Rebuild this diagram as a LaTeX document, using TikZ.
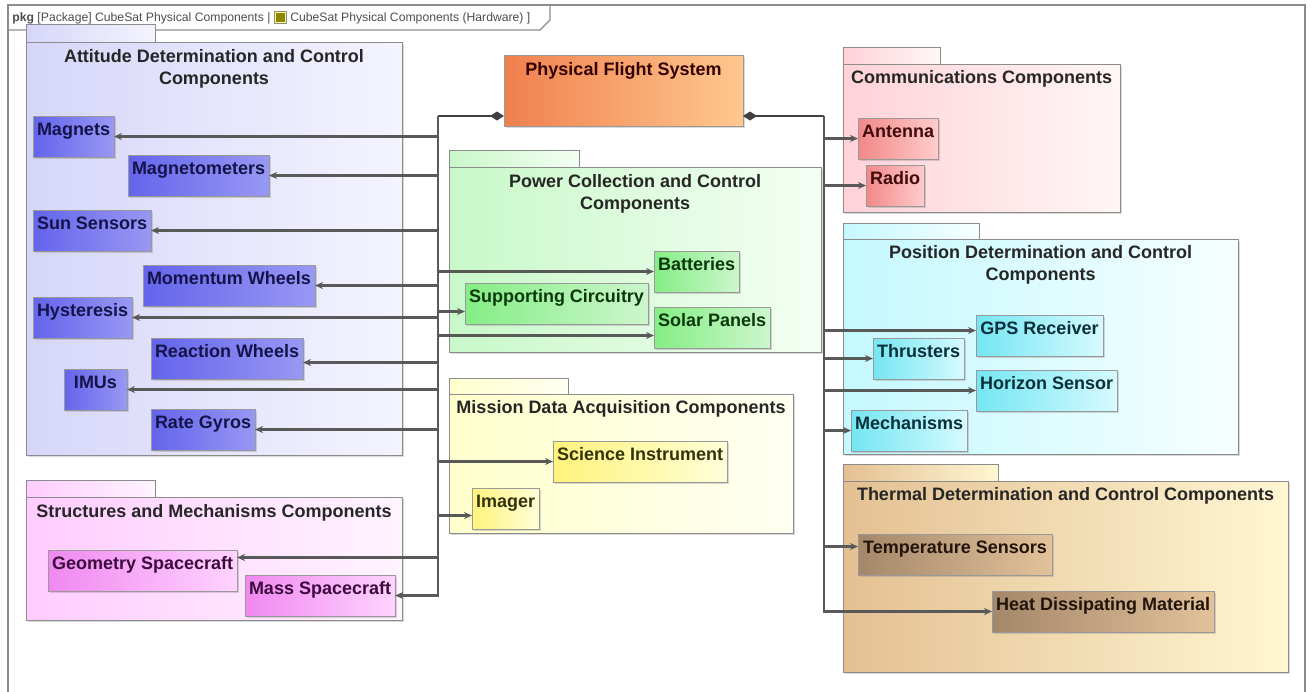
\documentclass[tikz,border=0pt]{standalone}
\usepackage{fontspec}
\setmainfont{Liberation Sans}
\usetikzlibrary{positioning,arrows.meta,shadows}

\definecolor{adcsL}{HTML}{D6D6FA}
\definecolor{adcsR}{HTML}{F4F4FF}
\definecolor{adcsPL}{HTML}{6464EC}
\definecolor{adcsPR}{HTML}{9898F4}
\definecolor{adcsT}{HTML}{14144A}
\definecolor{smL}{HTML}{FFCCFF}
\definecolor{smR}{HTML}{FFF4FF}
\definecolor{smPL}{HTML}{F088F0}
\definecolor{smPR}{HTML}{FFD4FF}
\definecolor{smT}{HTML}{3C0A3C}
\definecolor{pccL}{HTML}{C8F8C8}
\definecolor{pccR}{HTML}{F4FFF4}
\definecolor{pccPL}{HTML}{84EE84}
\definecolor{pccPR}{HTML}{CDF6CD}
\definecolor{pccT}{HTML}{0A380A}
\definecolor{mdaL}{HTML}{FFFFCC}
\definecolor{mdaR}{HTML}{FFFFF2}
\definecolor{mdaPL}{HTML}{FFF27C}
\definecolor{mdaPR}{HTML}{FFFFD8}
\definecolor{mdaT}{HTML}{33330A}
\definecolor{comL}{HTML}{FFD2D8}
\definecolor{comR}{HTML}{FFF6F6}
\definecolor{comPL}{HTML}{F28888}
\definecolor{comPR}{HTML}{FFCCCC}
\definecolor{comT}{HTML}{400A0A}
\definecolor{pdcL}{HTML}{C4F8FF}
\definecolor{pdcR}{HTML}{F6FFFF}
\definecolor{pdcPL}{HTML}{74E6F2}
\definecolor{pdcPR}{HTML}{D6FAFF}
\definecolor{pdcT}{HTML}{08303A}
\definecolor{tdcL}{HTML}{E4C092}
\definecolor{tdcR}{HTML}{FFF6D2}
\definecolor{tdcPL}{HTML}{A4876A}
\definecolor{tdcPR}{HTML}{E2C29A}
\definecolor{tdcT}{HTML}{22140A}
\definecolor{pfsL}{HTML}{F0804E}
\definecolor{pfsR}{HTML}{FFC88E}

\begin{document}
\begin{tikzpicture}[x=0.5pt,y=-0.5pt,
    frame/.style={draw=black!45,line width=0.6pt},
    pkg/.style={draw=black!45,line width=0.5pt,anchor=north west,outer sep=0pt,inner sep=0pt,
      drop shadow={shadow xshift=1pt,shadow yshift=-1pt,opacity=0.3}},
    pkgtab/.style={draw=black!45,line width=0.5pt},
    pkgtitle/.style={anchor=north,inner sep=0pt,align=center,text=black!85,
      font=\fontsize{9}{11}\selectfont\bfseries},
    part/.style={draw=black!40,line width=0.5pt,anchor=north west,outer sep=0pt,
      inner xsep=2pt,inner ysep=2.5pt,text height=7pt,text depth=8.5pt,
      font=\fontsize{9}{11}\selectfont\bfseries,
      drop shadow={shadow xshift=1pt,shadow yshift=-1pt,opacity=0.3}},
    adcspart/.style={part,left color=adcsPL,right color=adcsPR,text=adcsT},
    smpart/.style={part,left color=smPL,right color=smPR,text=smT},
    pccpart/.style={part,left color=pccPL,right color=pccPR,text=pccT},
    mdapart/.style={part,left color=mdaPL,right color=mdaPR,text=mdaT},
    compart/.style={part,left color=comPL,right color=comPR,text=comT},
    pdcpart/.style={part,left color=pdcPL,right color=pdcPR,text=pdcT},
    tdcpart/.style={part,left color=tdcPL,right color=tdcPR,text=tdcT},
    comp/.style={{Diamond[length=7pt,width=4.5pt]}-,draw=black!75,line width=1.2pt},
    trunk/.style={draw=black!75,line width=1.2pt},
    link/.style={-{Stealth[length=4pt,width=3.5pt]},draw=black!65,line width=1.1pt}]
  \useasboundingbox (0,0) rectangle (1310,691);

  % diagram frame and name tab
  \draw[frame] (8,5) rectangle (1305,720);
  \draw[frame] (8,30) -- (540,30) -- (550,20) -- (550,5);
  \node[anchor=west,inner sep=0pt,text=black!70,font=\fontsize{6.1}{7.5}\selectfont] (hdr) at (12,17.5)
    {\textbf{pkg} [Package] CubeSat Physical Components | {\setlength{\fboxsep}{0.6pt}\fcolorbox{black!45}{yellow!50}{\color{olive}\rule{4.5pt}{4.5pt}}} CubeSat Physical Components (Hardware) ]};

  % packages
  \draw[pkgtab,left color=adcsL,right color=adcsR] (26,24) rectangle (155,42);
  \node[pkg,left color=adcsL,right color=adcsR,minimum width=188pt,minimum height=206.5pt] (adcs) at (26,42) {};
  \node[pkgtitle,below=3.5pt of adcs.north] (adcst) {Attitude Determination and Control\\Components};

  \draw[pkgtab,left color=smL,right color=smR] (26,480) rectangle (155,497);
  \node[pkg,left color=smL,right color=smR,minimum width=188pt,minimum height=61.5pt] (sm) at (26,497) {};
  \node[pkgtitle,below=3.5pt of sm.north] (smt) {Structures and Mechanisms Components};

  \draw[pkgtab,left color=pccL,right color=pccR] (449,150) rectangle (579,167);
  \node[pkg,left color=pccL,right color=pccR,minimum width=186pt,minimum height=92.5pt] (pcc) at (449,167) {};
  \node[pkgtitle,below=3.5pt of pcc.north] (pcct) {Power Collection and Control\\Components};

  \draw[pkgtab,left color=mdaL,right color=mdaR] (449,378) rectangle (568,394);
  \node[pkg,left color=mdaL,right color=mdaR,minimum width=172pt,minimum height=69.5pt] (mda) at (449,394) {};
  \node[pkgtitle,below=3pt of mda.north] (mdat) {Mission Data Acquisition Components};

  \draw[pkgtab,left color=comL,right color=comR] (843,47) rectangle (940,64);
  \node[pkg,left color=comL,right color=comR,minimum width=138.5pt,minimum height=74pt] (com) at (843,64) {};
  \node[pkgtitle,below=3pt of com.north] (comt) {Communications Components};

  \draw[pkgtab,left color=pdcL,right color=pdcR] (843,223) rectangle (979,239);
  \node[pkg,left color=pdcL,right color=pdcR,minimum width=197.5pt,minimum height=107.5pt] (pdc) at (843,239) {};
  \node[pkgtitle,below=3pt of pdc.north] (pdct) {Position Determination and Control\\Components};

  \draw[pkgtab,left color=tdcL,right color=tdcR] (843,464) rectangle (998,481);
  \node[pkg,left color=tdcL,right color=tdcR,minimum width=222.5pt,minimum height=95.5pt] (tdc) at (843,481) {};
  \node[pkgtitle,below=3pt of tdc.north] (tdct) {Thermal Determination and Control Components};

  % whole system
  \node[part,left color=pfsL,right color=pfsR,text=black!80!red,minimum width=119.5pt,
    inner ysep=3pt,text depth=22.5pt] (pfs) at (504,55) {Physical Flight System};

  % parts
  \node[adcspart] (mag) at (33,116) {Magnets};
  \node[adcspart] (mgm) at (128,155) {Magnetometers};
  \node[adcspart] (sun) at (33,210) {Sun Sensors};
  \node[adcspart] (mw) at (143,265) {Momentum Wheels};
  \node[adcspart] (hys) at (33,297) {Hysteresis};
  \node[adcspart] (rw) at (151,338) {Reaction Wheels};
  \node[adcspart,minimum width=31.5pt] (imu) at (64,369) {IMUs};
  \node[adcspart] (rg) at (151,409) {Rate Gyros};

  \node[smpart] (geo) at (48,550) {Geometry Spacecraft};
  \node[smpart] (mass) at (245,575) {Mass Spacecraft};

  \node[pccpart] (bat) at (654,251) {Batteries};
  \node[pccpart] (sc) at (465,283) {Supporting Circuitry};
  \node[pccpart] (sp) at (654,307) {Solar Panels};

  \node[mdapart] (si) at (553,441) {Science Instrument};
  \node[mdapart] (img) at (472,488) {Imager};

  \node[compart] (ant) at (858,118) {Antenna};
  \node[compart] (rad) at (866,165) {Radio};

  \node[pdcpart,minimum width=63.5pt] (gps) at (976,315) {GPS Receiver};
  \node[pdcpart] (thr) at (873,338) {Thrusters};
  \node[pdcpart] (hor) at (976,370) {Horizon Sensor};
  \node[pdcpart] (mech) at (851,410) {Mechanisms};

  \node[tdcpart,minimum width=97pt] (temp) at (858,534) {Temperature Sensors};
  \node[tdcpart,minimum width=110.5pt] (heat) at (992,591) {Heat Dissipating Material};

  % composition connectors
  \coordinate (lj) at (438,116);
  \coordinate (rj) at (824,116);
  \draw[comp] ([yshift=5pt]pfs.south west) -- (lj);
  \draw[comp] ([yshift=5pt]pfs.south east) -- (rj);
  \draw[trunk] (lj) -- (lj |- mass.east);
  \draw[trunk] (rj) -- (rj |- heat.west);

  \draw[link] (lj) |- (mag.east);
  \draw[link] (lj) |- (mgm.east);
  \draw[link] (lj) |- (sun.east);
  \draw[link] (lj) |- (mw.east);
  \draw[link] (lj) |- (hys.east);
  \draw[link] (lj) |- ([yshift=-2pt]rw.east);
  \draw[link] (lj) |- (imu.east);
  \draw[link] (lj) |- (rg.east);
  \draw[link] (lj) |- ([yshift=6.5pt]geo.east);
  \draw[link] (lj) |- (mass.east);
  \draw[link] (lj) |- (bat.west);
  \draw[link] (lj) |- ([yshift=-4pt]sc.west);
  \draw[link] (lj) |- ([yshift=-4pt]sp.west);
  \draw[link] (lj) |- (si.west);
  \draw[link] (lj) |- ([yshift=-3.5pt]img.west);

  \draw[link] (rj) |- (ant.west);
  \draw[link] (rj) |- (rad.west);
  \draw[link] (rj) |- ([yshift=2.5pt]gps.west);
  \draw[link] (rj) |- (thr.west);
  \draw[link] (rj) |- (hor.west);
  \draw[link] (rj) |- (mech.west);
  \draw[link] (rj) |- ([yshift=4pt]temp.west);
  \draw[link] (rj) |- (heat.west);
\end{tikzpicture}
\end{document}
